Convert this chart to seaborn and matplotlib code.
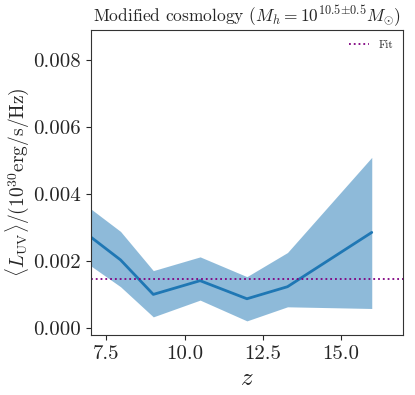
import numpy as np
import pandas as pd
import matplotlib
matplotlib.use("Agg")
import matplotlib.pyplot as plt
import seaborn as sns

# values
z = [7.0, 7.95, 9.0, 10.5, 12.0, 13.3, 16.0]
L_mean = [0.00272, 0.00204, 0.00101, 0.00142, 0.00088, 0.00124, 0.00286]
L_low = [0.00186, 0.00124, 0.00034, 0.00084, 0.00022, 0.00064, 0.00059]
L_high = [0.00356, 0.00289, 0.00172, 0.00213, 0.00154, 0.00226, 0.00510]
fit_level = 0.00146

sns.set_style("ticks")
plt.rcParams["font.family"] = ["serif"]
plt.rcParams["font.serif"] = ["cmr10", "DejaVu Serif"]
plt.rcParams["mathtext.fontset"] = "cm"
plt.rcParams["axes.formatter.use_mathtext"] = True

df = pd.DataFrame({"z": z, "L": L_mean})

fig = plt.figure(figsize=(4.15, 3.95), dpi=100)
ax = fig.add_axes([0.219, 0.152, 0.752, 0.772])

ax.fill_between(z, L_low, L_high, color="#1f77b4", alpha=0.5, lw=0)
sns.lineplot(data=df, x="z", y="L", ax=ax, color="#1f77b4", lw=2)
ax.axhline(fit_level, color="purple", ls=":", lw=1.3, label="Fit")

ax.set_xlim(7.0, 17.0)
ax.set_ylim(-0.0002, 0.0089)
ax.set_xticks([7.5, 10.0, 12.5, 15.0])
ax.set_yticks([0.0, 0.002, 0.004, 0.006, 0.008])
ax.set_xticklabels(["7.5", "10.0", "12.5", "15.0"])
ax.set_yticklabels(["0.000", "0.002", "0.004", "0.006", "0.008"])
ax.tick_params(labelsize=15)
for s in ax.spines.values():
    s.set_color("#333333")

ax.set_xlabel(r"$z$", fontsize=18)
ax.set_ylabel(r"$\langle L_{\rm UV}\rangle/(10^{30}{\rm erg/s/Hz})$", fontsize=14, labelpad=2)
ax.set_title(r"Modified cosmology ($M_h = 10^{10.5\!\pm\!0.5}M_{\odot}$)", fontsize=12.5)
ax.legend(loc="upper right", frameon=False, fontsize=8, handlelength=1.8)

fig.savefig("out.png", dpi=100)
